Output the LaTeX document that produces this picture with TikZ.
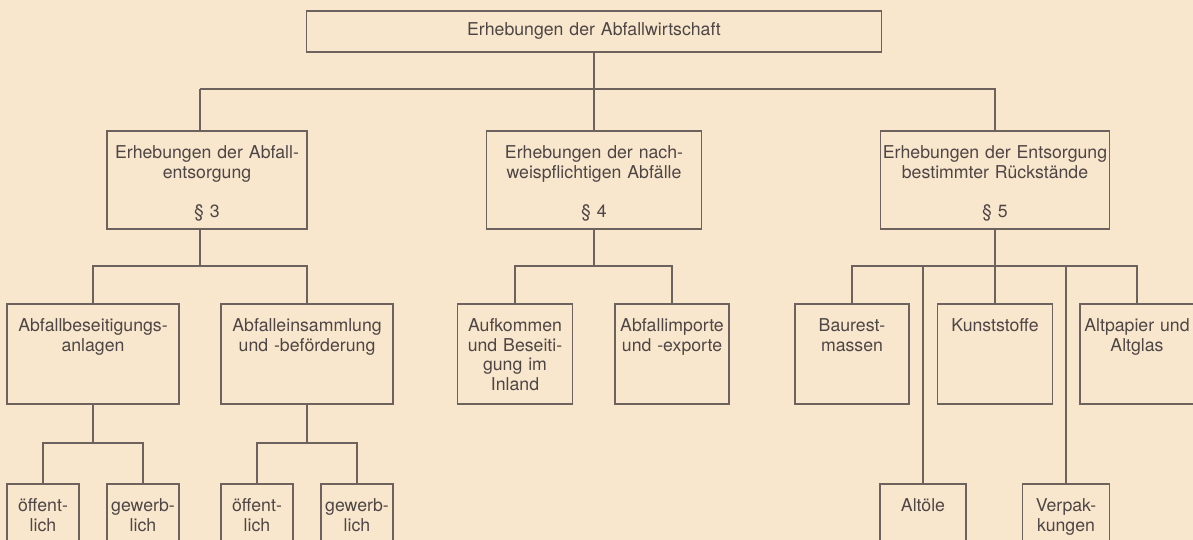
\documentclass[tikz,border=0pt]{standalone}
\usepackage{fontspec}
\setmainfont{TeX Gyre Heros}
\usetikzlibrary{positioning}
\definecolor{paper}{HTML}{F8E7CC}
\definecolor{rule}{HTML}{6E625E}
\definecolor{ink}{HTML}{4E4646}

\begin{document}
\begin{tikzpicture}[x=0.5pt, y=-0.5pt,
  box/.style={draw=rule, line width=0.9pt, inner sep=0pt, anchor=north, align=center, text=ink, font=\fontsize{8.85}{9.75}\selectfont},
  head/.style={box, text width=287.5pt, minimum height=20.5pt},
  para/.style={box, text height=14pt, text depth=35pt},
  sub/.style={box, text height=14pt, text depth=36pt},
  leaf/.style={box, text height=14pt, text depth=40pt},
  link/.style={draw=rule, line width=0.9pt},
]
\useasboundingbox[fill=paper] (0,0) rectangle (1193,540);
\clip (0,0) rectangle (1193,540);

% Top
\node[head] (top) at (594,10) {Erhebungen der Abfallwirtschaft};

% Paragraphs
\node[para, text width=100pt] (abf) at (207,130) {Erhebungen der Abfall-\\entsorgung\\[9.75pt]§ 3};
\node[para, text width=107.5pt] (nwp) at (594,130) {Erhebungen der nach-\\weispflichtigen Abfälle\\[9.75pt]§ 4};
\node[para, text width=114.5pt] (rst) at (995,130) {Erhebungen der Entsorgung\\bestimmter Rückstände\\[9.75pt]§ 5};

% Statistics below § 3
\node[sub, text width=86pt] (anl) at (93,303) {Abfallbeseitigungs-\\anlagen};
\node[sub, text width=86pt] (ein) at (307,303) {Abfalleinsammlung\\und -beförderung};

% Statistics below § 4
\node[sub, text width=57.5pt] (auf) at (515,303) {Aufkommen\\und Beseiti-\\gung im\\Inland};
\node[sub, text width=57pt] (imp) at (672,303) {Abfallimporte\\und -exporte};

% Statistics below § 5
\node[sub, text width=57pt] (bau) at (852,303) {Baurest-\\massen};
\node[sub, text width=57.5pt] (kun) at (995,303) {Kunststoffe};
\node[sub, text width=57pt] (alp) at (1137,303) {Altpapier und\\Altglas};
\node[leaf, text width=43pt] (oel) at (923,483) {Altöle};
\node[leaf, text width=43.5pt] (vpk) at (1066,483) {Verpak-\\kungen};

% Operators
\node[leaf, text width=36pt] (oa1) at (43,483) {öffent-\\lich};
\node[leaf, text width=36pt] (ga1) at (143,483) {gewerb-\\lich};
\node[leaf, text width=36pt] (oa2) at (257,483) {öffent-\\lich};
\node[leaf, text width=36pt] (ga2) at (357,483) {gewerb-\\lich};

% Junctions
\coordinate (j1) at (594,89);
\coordinate (j1l) at (200,89);
\coordinate (j2a) at (200,266);
\coordinate (j2b) at (594,266);
\coordinate (j2c) at (995,266);
\coordinate (j3a) at (93,443);
\coordinate (j3b) at (307,443);

% Lines
\draw[link] (top) -- (j1);
\draw[link] (j1l) -| (rst);
\draw[link] (j1) -- (nwp);
\draw[link] (j1l) -- (j1l |- abf.north);

\draw[link] (j1l |- abf.south) -- (j2a);
\draw[link] (j2a) -| (anl);
\draw[link] (j2a) -| (ein);

\draw[link] (nwp) -- (j2b);
\draw[link] (j2b) -| (auf);
\draw[link] (j2b) -| (imp);

\draw[link] (rst) -- (j2c);
\draw[link] (j2c) -| (bau);
\draw[link] (j2c) -- (kun);
\draw[link] (j2c) -| (alp);
\draw[link] (j2c) -| (oel);
\draw[link] (j2c) -| (vpk);

\draw[link] (anl) -- (j3a);
\draw[link] (j3a) -| (oa1);
\draw[link] (j3a) -| (ga1);
\draw[link] (ein) -- (j3b);
\draw[link] (j3b) -| (oa2);
\draw[link] (j3b) -| (ga2);
\end{tikzpicture}
\end{document}
